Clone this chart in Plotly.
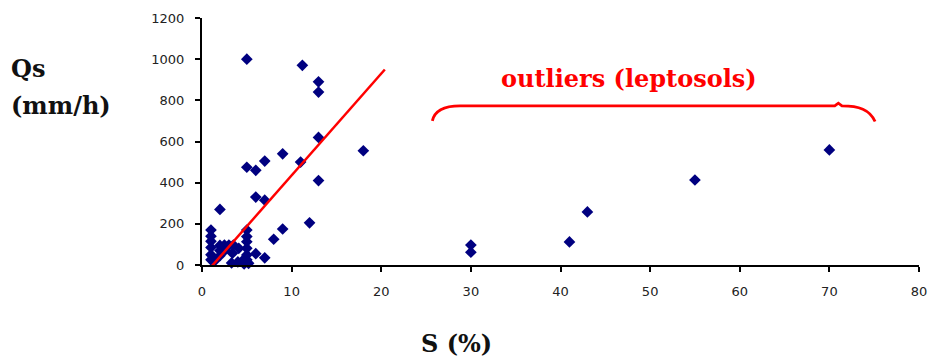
import plotly.graph_objects as go

# Main cluster (S %, Qs mm/h)
s_main = [5, 11.2, 13, 13, 13, 18, 9, 11, 7, 5, 6, 13, 6, 7, 2, 12, 9, 8, 7, 6,
          1, 1, 1, 1, 1, 1, 2, 2.5, 3, 3.5, 2, 2.6, 2, 1.5, 3.4, 4.1,
          5, 5, 5, 5, 5, 3.3, 4, 4.5, 5, 5.2, 4.7]
qs_main = [1000, 970, 890, 840, 620, 555, 540, 500, 505, 475, 460, 410, 330, 315, 270, 205, 175, 125, 35, 55,
           170, 140, 115, 85, 50, 25, 95, 97, 97, 97, 70, 73, 45, 24, 57, 81,
           170, 138, 113, 81, 49, 10, 15, 20, 25, 8, 5]

# Outliers (leptosols)
s_out = [30, 30, 41, 43, 55, 70]
qs_out = [97, 62, 112, 258, 413, 559]

# Trend line
s_trend = [1.1, 20.4]
qs_trend = [-5, 950]

x_ticks = [0, 10, 20, 30, 40, 50, 60, 70, 80]
y_ticks = [0, 200, 400, 600, 800, 1000, 1200]

navy = "#000080"
red = "#FF0000"

fig = go.Figure()
fig.add_trace(go.Scatter(x=s_main + s_out, y=qs_main + qs_out, mode="markers",
                         marker=dict(symbol="diamond", size=9, color=navy),
                         cliponaxis=False, showlegend=False))
fig.add_trace(go.Scatter(x=s_trend, y=qs_trend, mode="lines",
                         line=dict(color=red, width=2.5), cliponaxis=False, showlegend=False))

# curly brace over outliers
fig.add_shape(type="path", xref="x", yref="y",
              path="M 25.7,700 C 25.9,740 26.6,773 28.8,773 L 70.6,773 L 71.0,786 L 71.4,773 "
                   "C 73.3,773 74.5,755 75.1,697",
              line=dict(color=red, width=2.8))

fig.add_annotation(x=47.6, y=905, xref="x", yref="y", text="<b>outliers (leptosols)</b>",
                   showarrow=False, font=dict(family="DejaVu Serif", size=24, color=red))

serif = dict(family="DejaVu Serif", size=24, color="#111111")
fig.add_annotation(xref="paper", yref="paper", x=-(202 - 7) / 725, y=1 - (68 - 18) / 247,
                   xanchor="left", yanchor="middle", text="<b>Qs</b>", showarrow=False, font=serif)
fig.add_annotation(xref="paper", yref="paper", x=-(202 - 7) / 725, y=1 - (105 - 18) / 247,
                   xanchor="left", yanchor="middle", text="<b>(mm/h)</b>", showarrow=False, font=serif)
fig.add_annotation(xref="paper", yref="paper", x=(459 - 202) / 725, y=-(343 - 265) / 247,
                   xanchor="center", yanchor="middle", text="<b>S (%)</b>", showarrow=False, font=serif)

tickfont = dict(family="DejaVu Sans", size=13, color="#222222")
fig.update_xaxes(range=[0, 80], tickvals=x_ticks, showgrid=False, zeroline=False,
                 showline=True, linecolor="black", linewidth=2, ticks="outside",
                 ticklen=5, tickwidth=1.5, tickcolor="black", tickfont=tickfont,
                 ticklabelstandoff=8)
fig.update_yaxes(range=[0, 1200], tickvals=y_ticks, showgrid=False, zeroline=False,
                 showline=True, linecolor="black", linewidth=2, ticks="outside",
                 ticklen=5, tickwidth=1.5, tickcolor="black", tickfont=tickfont,
                 ticklabelstandoff=8)

fig.update_layout(width=937, height=362, margin=dict(l=202, r=10, t=18, b=97),
                  plot_bgcolor="white", paper_bgcolor="white")
fig.write_html("out.html")
